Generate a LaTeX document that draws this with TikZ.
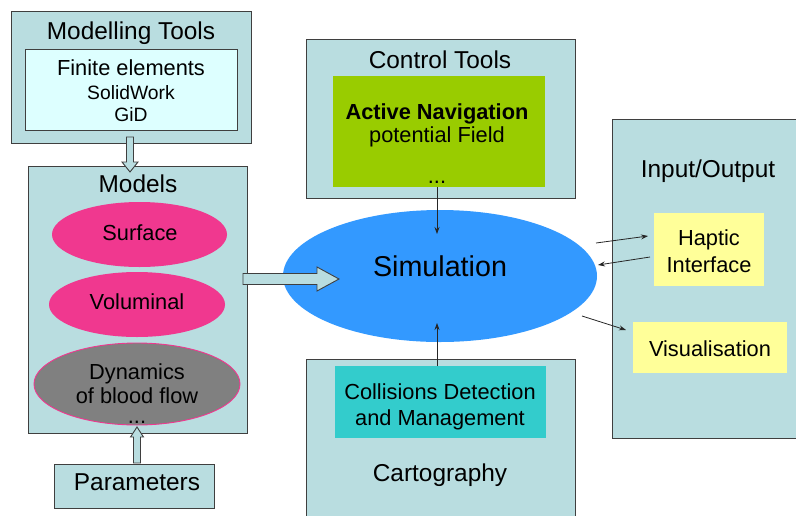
\documentclass[tikz,border=0pt]{standalone}
\usepackage{fontspec}
\setmainfont{Liberation Sans}
\usetikzlibrary{shapes.geometric,arrows.meta,calc}
\definecolor{boxbg}{HTML}{B9DDE0}
\definecolor{finc}{HTML}{DDFFFF}
\definecolor{pinkc}{HTML}{F0388F}
\definecolor{grayc}{HTML}{808080}
\definecolor{bluec}{HTML}{3399FF}
\definecolor{greenc}{HTML}{99CC00}
\definecolor{tealc}{HTML}{33CCCC}
\definecolor{yelc}{HTML}{FFFF99}
\definecolor{edgec}{HTML}{3F3F3F}
\begin{document}
\begin{tikzpicture}[x=1pt,y=-1pt,
  panel/.style={draw=edgec, line width=0.9pt, fill=boxbg, inner sep=0pt, anchor=north west},
  inbox/.style={inner sep=0pt, anchor=north west},
  big/.style={inner sep=0pt, font=\fontsize{24.4}{29}\selectfont, text height=17.5pt, text depth=0pt},
  mid/.style={inner sep=0pt, font=\fontsize{21.8}{26}\selectfont, text height=15.7pt, text depth=0pt},
  sml/.style={inner sep=0pt, font=\fontsize{19.3}{23}\selectfont, text height=13.9pt, text depth=0pt},
  huge/.style={inner sep=0pt, font=\fontsize{28.7}{34}\selectfont, text height=20.6pt, text depth=0pt},
  ell/.style={ellipse, inner sep=0pt},
  thinarr/.style={draw=black!85, line width=0.8pt, -{Stealth[length=7pt,width=5pt]}},
  hollow/.style={draw=edgec, line width=0.9pt, fill=boxbg, line join=miter},
]
\useasboundingbox (0,0) rectangle (796,515);

% ---- Modelling tools
\node[panel, minimum width=240pt, minimum height=132pt] (mt) at (11,11) {};
\node[big] (mtT) at (131,31) {Modelling Tools};
\node[inbox, draw=edgec, line width=0.9pt, fill=finc, minimum width=212pt, minimum height=81pt] (fin) at (25,49) {};
\node[mid] (fin1) at (131,67.5) {Finite elements};
\node[sml] (fin2) at (131,92.5) {SolidWork};
\node[sml] (fin3) at (131,115) {GiD};

% ---- Models
\node[panel, minimum width=219pt, minimum height=267pt] (mod) at (28,166) {};
\node[big] (modT) at (138,183.5) {Models};
\node[ell, fill=pinkc, minimum width=175pt, minimum height=65pt] (surf) at (139.5,234.5) {};
\node[mid] (surfT) at (140,233) {Surface};
\node[ell, fill=pinkc, minimum width=176pt, minimum height=65pt] (vol) at (137,304.5) {};
\node[mid] (volT) at (137,302) {Voluminal};
\node[ell, fill=grayc, draw=pinkc, line width=0.9pt, minimum width=206pt, minimum height=82pt] (dyn) at (137,384) {};
\node[mid] (dyn1) at (137,371.5) {Dynamics};
\node[mid] (dyn2) at (137,395.5) {of blood flow};
\node[mid] (dyn3) at (137,416) {...};

% ---- Parameters
\node[panel, minimum width=160pt, minimum height=44pt] (par) at (54,464) {};
\node[big] (parT) at (137,482) {Parameters};

% ---- Control tools
\node[panel, minimum width=269pt, minimum height=159pt] (ct) at (306,39) {};
\node[big] (ctT) at (440,60) {Control Tools};
\node[inbox, fill=greenc, minimum width=212pt, minimum height=111pt] (nav) at (333,76) {};
\node[mid, font=\fontsize{21.8}{26}\selectfont\bfseries] (nav1) at (437,112) {Active Navigation};
\node[mid] (nav2) at (437,135) {potential Field};
\node[mid] (nav3) at (437,176) {...};

% ---- Cartography
\node[panel, minimum width=269pt, minimum height=165pt] (cart) at (306,359) {};
\node[inbox, fill=tealc, minimum width=211pt, minimum height=72pt] (col) at (335,366) {};
\node[mid] (col1) at (440,392) {Collisions Detection};
\node[mid] (col2) at (440,417.5) {and Management};
\node[big] (cartT) at (440,473) {Cartography};

% ---- Input / Output
\node[panel, minimum width=190pt, minimum height=319pt] (io) at (612,119) {};
\node[big] (ioT) at (708,168.5) {Input/Output};
\node[inbox, fill=yelc, minimum width=110pt, minimum height=73pt] (hap) at (654,213) {};
\node[mid] (hap1) at (709,237.5) {Haptic};
\node[mid] (hap2) at (709,264.5) {Interface};
\node[inbox, fill=yelc, minimum width=154pt, minimum height=51pt] (vis) at (633,322) {};
\node[mid] (visT) at (710,348.5) {Visualisation};

% ---- Simulation
\node[ell, fill=bluec, minimum width=314pt, minimum height=132pt] (sim) at (440,276) {};
\node[huge] (simT) at (440,266.5) {Simulation};

% ---- hollow arrows
\draw[hollow] (126.5,137) -- (133.5,137) -- (133.5,162) -- (138,162) -- (130,172) -- (122,162) -- (126.5,162) -- cycle;
\draw[hollow] (243,273.5) -- (317,273.5) -- (317,267) -- (339,279) -- (317,291) -- (317,284.5) -- (243,284.5) -- cycle;
\draw[hollow] (133.5,463) -- (140.5,463) -- (140.5,437) -- (143.5,437) -- (137,427) -- (130.5,437) -- (133.5,437) -- cycle;

% ---- thin arrows
\coordinate (navout) at (437,187);
\coordinate (simtop) at (437,234);
\coordinate (colout) at (437,366);
\coordinate (simbot) at (437,323);
\coordinate (h1s) at (596,243);
\coordinate (h1e) at (648,236);
\coordinate (h2s) at (650,257);
\coordinate (h2e) at (598,265);
\coordinate (v1s) at (582,316);
\coordinate (v1e) at (626,330);
\draw[thinarr] (navout) -- (simtop);
\draw[thinarr] (colout) -- (simbot);
\draw[thinarr] (h1s) -- (h1e);
\draw[thinarr] (h2s) -- (h2e);
\draw[thinarr] (v1s) -- (v1e);
\end{tikzpicture}
\end{document}
